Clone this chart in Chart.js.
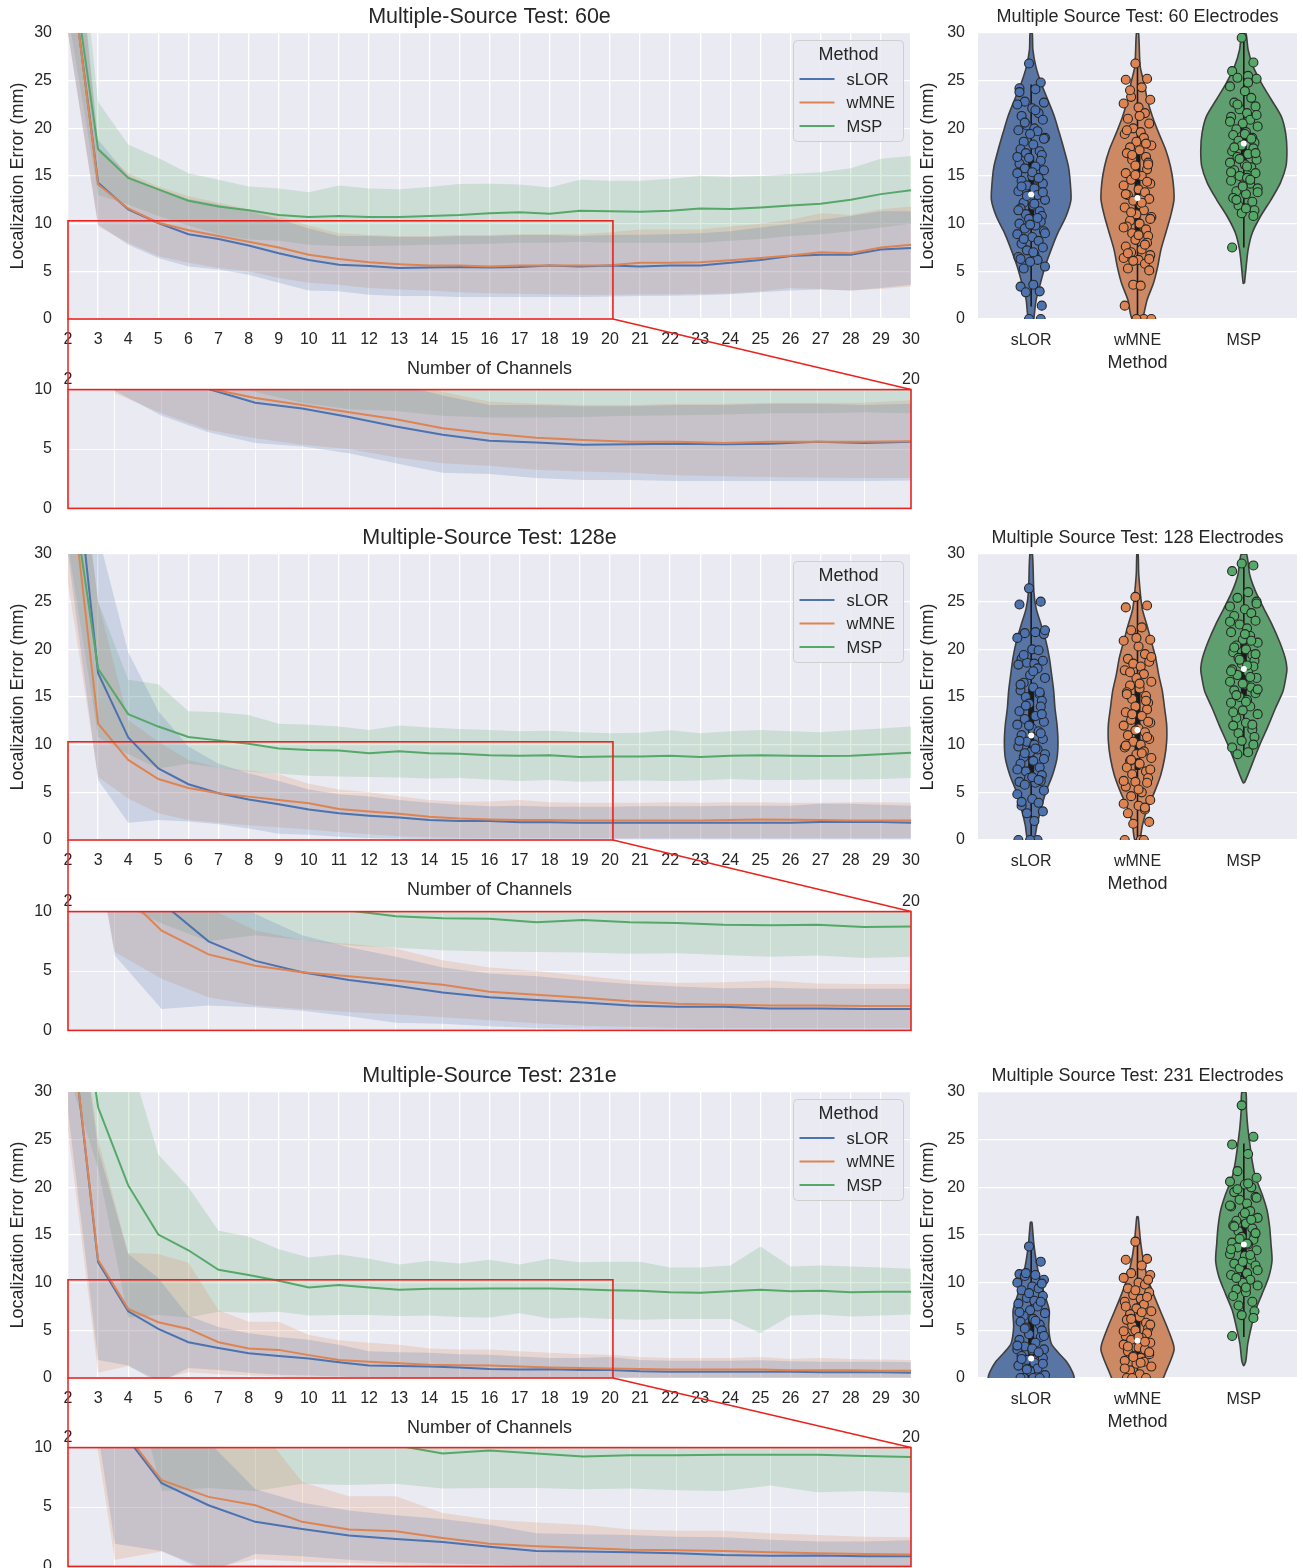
<!DOCTYPE html>
<html>
<head>
<meta charset="utf-8">
<script src="https://cdn.jsdelivr.net/npm/chart.js@4.4.1/dist/chart.umd.min.js"></script>
<style>
body{margin:0;background:#fff}
#page{position:relative;width:1303px;height:1568px;overflow:hidden;background:#fff}
</style>
</head>
<body>
<div id="page"></div>
<script>
// channels on the x axis of the line plots
const CHANNELS = [2,3,4,5,6,7,8,9,10,11,12,13,14,15,16,17,18,19,20,21,22,23,24,25,26,27,28,29,30];
const METHODS = ['sLOR','wMNE','MSP'];

// ---- 60 electrodes: mean, lower band, upper band ----
const S60_MEAN = [39,14.3,11.5,10.05,8.9,8.4,7.7,6.9,6.2,5.7,5.55,5.35,5.4,5.45,5.4,5.45,5.6,5.5,5.6,5.5,5.6,5.6,5.9,6.2,6.6,6.75,6.75,7.3,7.45];
const S60_LO   = [30,9.9,7.8,6.4,5.5,5.2,4.65,3.8,3.0,2.9,2.55,2.4,2.4,2.3,2.3,2.3,2.3,2.3,2.35,2.4,2.45,2.5,2.6,2.8,3.0,3.1,3.0,3.25,3.6];
const S60_HI   = [50,18.8,15.0,13.5,12.6,12.0,11.3,10.5,9.5,8.7,8.7,8.6,8.6,8.7,8.7,8.8,8.8,8.7,8.8,8.85,8.9,9.0,9.2,9.6,10.0,10.4,10.8,11.3,11.3];
const W60_MEAN = [39,14.1,11.6,10.1,9.3,8.7,8.1,7.5,6.75,6.3,5.95,5.75,5.6,5.6,5.5,5.6,5.6,5.6,5.65,5.9,5.9,5.95,6.15,6.4,6.65,7.0,6.9,7.5,7.8];
const W60_LO   = [30,9.7,8.0,6.6,5.9,5.35,5.0,4.3,3.8,3.6,3.25,3.1,3.0,2.8,2.7,2.65,2.6,2.55,2.55,2.6,2.6,2.65,2.7,2.9,3.25,3.15,3.0,3.15,3.4];
const W60_HI   = [50,18.0,15.3,13.9,12.9,12.2,11.5,10.8,9.8,9.0,8.8,8.7,8.7,8.8,8.8,8.9,8.9,8.9,9.1,9.4,9.4,9.4,9.7,10.0,10.4,11.1,10.9,11.5,11.8];
const M60_MEAN = [40,17.8,14.8,13.6,12.4,11.8,11.4,10.9,10.7,10.8,10.7,10.7,10.8,10.9,11.1,11.2,11.05,11.35,11.3,11.25,11.35,11.6,11.55,11.7,11.9,12.1,12.5,13.1,13.5];
const M60_LO   = [32,13.0,12.0,10.8,9.8,8.9,8.35,8.2,7.8,7.65,7.65,7.7,7.8,7.85,7.9,8.0,8.0,8.1,8.0,8.0,8.0,8.0,8.2,8.4,8.7,8.9,9.2,9.6,10.0];
const M60_HI   = [52,22.8,18.3,16.9,15.3,14.6,13.9,13.7,13.3,14.0,13.7,13.6,13.85,14.15,14.2,14.1,13.8,14.6,14.5,14.5,14.7,15.0,14.9,15.0,15.2,15.4,15.8,16.8,17.1];

// ---- 128 electrodes ----
const S128_MEAN = [47,17.5,10.75,7.5,5.85,4.9,4.25,3.75,3.2,2.8,2.55,2.35,2.1,2.0,2.0,1.85,1.85,1.8,1.8,1.8,1.8,1.8,1.82,1.82,1.82,1.9,1.9,1.9,1.8];
const S128_LO   = [30,6.3,1.8,2.1,1.95,1.65,1.2,0.65,0.55,0.35,0.2,0.15,0.1,0.1,0.05,0.05,0.05,0.05,0.05,0.05,0.05,0.05,0.05,0.05,0.05,0.05,0.05,0.05,0.05];
const S128_HI   = [50,32,19.7,13.5,9.8,8.0,7.0,6.2,5.3,4.8,4.55,4.2,3.9,3.7,3.55,3.6,3.5,3.5,3.5,3.55,3.55,3.55,3.6,3.6,3.6,3.8,3.8,3.7,3.6];
const W128_MEAN = [40,12.2,8.4,6.4,5.45,4.9,4.55,4.2,3.85,3.25,3.0,2.75,2.45,2.25,2.15,2.1,2.1,2.05,2.05,2.05,2.05,2.05,2.1,2.15,2.12,2.1,2.05,2.05,2.05];
const W128_LO   = [27,6.6,4.35,2.8,2.1,1.8,1.55,1.35,1.1,0.85,0.6,0.4,0.3,0.2,0.2,0.2,0.2,0.2,0.2,0.2,0.2,0.2,0.2,0.2,0.2,0.2,0.2,0.2,0.2];
const W128_HI   = [50,25,12.6,10.3,8.4,7.6,7.3,6.9,5.9,5.3,5.0,4.6,4.2,4.0,4.05,4.2,3.95,3.9,3.9,3.9,3.95,3.9,3.95,3.95,3.9,3.9,3.95,3.95,3.9];
const M128_MEAN = [39.5,17.95,13.2,11.9,10.8,10.45,10.1,9.6,9.45,9.4,9.1,9.3,9.1,9.05,8.9,8.85,8.9,8.7,8.75,8.75,8.85,8.7,8.85,8.9,8.85,8.8,8.85,9.0,9.15];
const M128_LO   = [31,10.8,9.0,7.5,8.0,7.6,7.15,6.95,6.75,6.65,6.6,6.55,6.45,6.5,6.35,6.2,6.3,6.1,6.2,6.25,6.2,6.25,6.4,6.3,6.3,6.35,6.35,6.4,6.5];
const M128_HI   = [50,25,16.8,16.35,13.5,13.4,13.1,12.2,12.1,11.9,11.55,12.0,11.8,11.65,11.55,11.4,11.45,11.3,11.2,11.25,11.5,11.2,11.4,11.55,11.4,11.3,11.5,11.7,11.9];

// ---- 231 electrodes ----
const S231_MEAN = [40,12.15,7.0,5.15,3.75,3.15,2.6,2.3,2.05,1.65,1.3,1.25,1.2,1.1,0.95,0.9,0.92,0.85,0.85,0.7,0.65,0.65,0.65,0.65,0.65,0.6,0.6,0.6,0.55];
const S231_LO   = [28,1.9,1.3,-0.5,1.05,0.85,0.55,0.35,0.25,0.15,0.05,0,0,0,0,0,0,0,0,0,0,0,0,0,0,0,0,0,0];
const S231_HI   = [48,24,13.0,10.5,6.5,5.35,4.7,4.3,4.0,3.5,2.8,2.7,2.65,2.5,2.45,2.25,2.1,2.1,2.2,1.9,1.8,1.8,1.8,1.85,1.75,1.7,1.7,1.7,1.65];
const W231_MEAN = [40,12.4,7.25,5.85,5.15,3.75,3.1,2.95,2.4,1.9,1.7,1.55,1.4,1.35,1.3,1.2,1.1,1.05,1.0,0.95,0.9,0.9,0.9,0.9,0.8,0.8,0.8,0.75,0.75];
const W231_LO   = [26,0.55,1.25,-0.2,0.6,0.4,0.3,0.15,0,0,0,0,0,0,0,0,0,0,0,0,0,0,0,0,0,0,0,0,0];
const W231_HI   = [48,25,13.1,13.0,12.1,7.1,5.9,5.9,4.5,3.95,3.7,3.5,3.1,3.0,3.0,2.8,2.65,2.5,2.45,2.2,2.1,2.1,2.1,2.2,2.0,2.1,2.0,1.95,1.9];
const M231_MEAN = [50,28.4,20.2,15.05,13.4,11.35,10.8,10.2,9.5,9.75,9.5,9.25,9.35,9.35,9.4,9.4,9.4,9.3,9.2,9.15,9.0,8.95,9.1,9.25,9.1,9.15,9.0,9.05,9.05];
const M231_LO   = [32,22,6.35,6.6,6.35,6.95,6.85,6.95,6.55,6.6,6.6,6.5,6.55,6.4,6.35,6.8,6.25,6.35,6.2,6.1,6.2,6.2,6.2,4.7,6.55,6.65,6.45,6.55,6.65];
const M231_HI   = [60,40,34,23.45,20.0,15.45,14.85,13.5,12.65,12.95,12.5,11.9,12.3,12.0,12.4,11.9,12.5,12.15,12.2,12.2,11.6,11.6,11.8,13.8,11.7,11.8,11.7,11.6,11.45];

// ---- violin outlines: y levels and half widths (category units) ----
const V60_SLOR_Y = [30,28.25,26.5,24.75,23,21.25,19.5,17.75,16,14.25,12.5,10.75,9,7.25,5.5,3.75,2,0];
const V60_SLOR_W = [0.01,0.016,0.044,0.093,0.156,0.218,0.265,0.31,0.35,0.368,0.374,0.327,0.25,0.187,0.131,0.087,0.047,0.025];
const V60_WMNE_Y = [30,26.5,24.75,23,21.25,19.5,17.75,16,14.25,12.5,10.75,9,7.25,5.5,3.75,2,0];
const V60_WMNE_W = [0.01,0.025,0.062,0.093,0.14,0.2,0.265,0.31,0.336,0.343,0.31,0.265,0.22,0.19,0.15,0.09,0.05];
const V60_MSP_Y  = [30,28.25,26.5,24.75,23,21.25,19.5,17.75,16,14.25,12.5,10.75,9,7.25,5.5,3.75];
const V60_MSP_W  = [0.019,0.04,0.087,0.165,0.259,0.352,0.393,0.405,0.396,0.343,0.255,0.156,0.078,0.04,0.022,0.006];

const V128_SLOR_Y = [30,26.1,24.3,22.6,20.8,19.1,17.3,15.6,13.8,12.1,10.3,8.6,6.8,5.1,3.3,1.6,0];
const V128_SLOR_W = [0.012,0.025,0.047,0.093,0.14,0.171,0.193,0.212,0.224,0.243,0.252,0.243,0.2,0.14,0.093,0.056,0.031];
const V128_WMNE_Y = [30,27.8,24.3,22.6,20.8,19.1,17.3,15.6,13.8,12.1,10.3,8.6,6.8,5.1,3.3,1.6,0];
const V128_WMNE_W = [0.006,0.012,0.044,0.087,0.131,0.171,0.2,0.234,0.255,0.274,0.274,0.255,0.218,0.162,0.093,0.047,0.025];
const V128_MSP_Y  = [30,27.8,26.1,24.3,22.6,20.8,19.1,18.0,17.3,15.6,13.8,12.1,10.3,8.6,6.8,6.0];
const V128_MSP_W  = [0.025,0.056,0.109,0.187,0.265,0.336,0.389,0.405,0.399,0.368,0.296,0.234,0.162,0.1,0.037,0.006];

const V231_SLOR_Y = [16.35,15.8,14.1,12.3,10.6,8.8,7.1,5.3,3.6,2.6,1.75,0.6,0,-1];
const V231_SLOR_W = [0.006,0.012,0.025,0.047,0.078,0.125,0.17,0.165,0.19,0.26,0.33,0.39,0.405,0.41];
const V231_WMNE_Y = [16.9,15.8,14.1,12.3,10.6,8.8,7.1,5.3,3.6,2.9,1.8,0.6,0,-1];
const V231_WMNE_W = [0.006,0.016,0.031,0.056,0.093,0.15,0.212,0.28,0.336,0.343,0.31,0.265,0.243,0.2];
const V231_MSP_Y  = [30,28.1,26.3,24.6,22.8,21.1,19.3,17.6,15.8,14.1,12.3,10.6,8.8,7.1,5.3,3.6,1.8,1.3];
const V231_MSP_W  = [0.019,0.025,0.037,0.056,0.078,0.109,0.171,0.218,0.243,0.255,0.265,0.234,0.171,0.109,0.069,0.037,0.019,0.003];

// inner box: [whisker low, q1, median, q3, whisker high]
const B60_SLOR = [1.3,9.4,13.05,17.05,24.6];
const B60_WMNE = [0,8.85,12.7,17.6,27.0];
const B60_MSP  = [7.5,15.8,18.4,20.3,29.5];
const B128_SLOR = [0,6.1,10.95,15.9,26.4];
const B128_WMNE = [0,7.35,11.55,16.1,25.6];
const B128_MSP  = [8.9,14.9,17.95,20.8,29.0];
const B231_SLOR = [0,0,2.05,6.3,13.8];
const B231_WMNE = [0,1.4,3.9,6.4,14.8];
const B231_MSP  = [4.3,10.6,14.0,16.5,24.6];

// strip points
const P60_SLOR = [26.8,24.8,24.2,24.1,22.8,22.7,22.5,22.1,21.6,21.3,20.9,20.3,20.0,19.8,19.7,19.4,19.0,18.6,18.3,17.8,17.6,17.4,17.2,16.9,16.6,16.3,16.0,15.8,15.6,15.3,15.0,14.7,14.5,14.2,14.0,13.7,13.4,13.0,12.7,12.5,12.2,11.9,11.6,11.3,11.0,10.8,10.5,10.2,10.0,9.8,9.5,9.2,8.9,8.6,8.2,7.9,7.5,7.2,6.8,6.5,6.2,6.0,5.5,5.3,3.6,3.4,2.9,2.8,1.4,0,0,
  23.8,21.9,20.6,18.9,17.0,15.4,14.8,13.9,13.3,12.9,12.1,11.4,10.6,9.9,9.0,8.4,7.0,6.3];
const P60_WMNE = [26.8,25.2,25.1,24.3,23.3,23.0,22.6,22.2,21.6,21.0,20.5,20.0,19.6,19.4,19.0,18.6,18.2,18.0,17.7,17.4,17.0,16.7,16.4,16.1,15.7,15.3,15.0,14.6,14.2,14.0,13.6,13.3,13.0,12.6,12.4,12.0,11.7,11.4,11.0,10.7,10.3,10.0,9.7,9.4,9.0,8.7,8.3,8.0,7.6,7.3,7.0,6.7,6.4,6.2,5.8,5.3,5.1,3.6,3.5,1.4,0,0,0,
  24.0,21.3,19.8,18.4,17.2,16.2,15.1,14.4,13.1,12.2,11.2,10.5,9.6,8.8,7.8,6.9,6.3,6.1];
const P60_MSP  = [29.5,26.9,26.0,25.5,25.3,25.2,24.4,23.9,23.2,22.7,22.3,22.0,21.6,21.2,20.9,20.5,20.2,19.9,19.6,19.3,19.0,18.7,18.5,18.2,17.9,17.6,17.3,17.0,16.7,16.4,16.2,15.9,15.6,15.3,15.0,14.8,14.5,14.2,14.0,13.7,13.4,13.1,12.7,12.3,11.9,11.4,11.1,10.8,7.5,
  24.8,22.5,21.4,20.7,19.4,18.9,18.0,17.4,16.8,16.0,15.4,14.6,13.9,13.3,12.5,11.6];
const P128_SLOR = [26.4,25.0,24.7,21.8,21.7,21.6,21.2,20.0,19.9,19.0,18.8,18.6,18.5,18.4,18.0,17.3,17.0,16.5,16.0,15.7,15.3,15.0,14.6,14.3,14.0,13.5,13.0,12.7,12.4,12.1,11.7,11.4,11.0,10.6,10.3,10.0,9.8,9.5,9.2,9.0,8.7,8.3,8.0,7.6,7.2,6.8,6.5,6.2,6.1,6.0,5.8,5.2,4.8,4.3,3.9,3.6,3.0,2.8,2.0,0,0,0,
  22.0,19.4,17.7,16.3,15.5,14.1,13.2,12.0,11.2,10.4,9.6,9.1,8.5,7.4,6.6,6.3,4.0];
const P128_WMNE = [25.5,24.6,24.4,22.3,22.0,21.0,20.9,20.3,19.5,19.0,18.7,18.5,18.2,17.8,17.4,17.0,16.6,16.2,15.9,15.5,15.1,14.8,14.4,14.0,13.7,13.4,13.0,12.6,12.3,12.0,11.7,11.3,11.0,10.6,10.3,10.0,9.7,9.3,9.0,8.6,8.3,8.0,7.6,7.2,6.9,6.5,6.1,6.0,5.6,5.0,4.6,4.2,3.8,3.6,3.2,2.8,1.9,1.7,0,0,0,
  21.2,19.2,17.6,16.4,15.3,14.6,13.2,12.4,11.5,10.8,9.9,9.1,8.4,7.4,6.2,5.3,3.4];
const P128_MSP  = [29.0,28.8,28.2,26.0,25.4,25.0,24.5,24.2,23.8,23.5,23.0,22.6,22.2,21.8,21.4,21.0,20.7,20.4,20.0,19.7,19.4,19.1,18.8,18.5,18.2,17.9,17.6,17.3,17.0,16.6,16.3,16.0,15.7,15.4,15.0,14.7,14.4,14.0,13.6,13.2,12.8,12.3,12.0,11.6,11.2,10.8,10.4,10.0,9.7,9.2,9.0,
  24.8,22.9,21.6,20.9,20.2,19.5,18.9,18.3,17.7,17.1,16.4,15.8,15.2,14.5,13.4,12.1];
const P231_SLOR = [13.8,12.2,10.9,10.8,10.7,10.3,10.0,9.6,9.4,9.2,8.6,8.4,8.1,7.8,7.5,7.1,6.8,6.5,6.2,5.9,5.6,5.3,5.0,4.6,4.3,4.0,3.7,3.3,3.0,3.0,2.9,2.6,2.3,2.1,1.9,1.6,1.3,1.0,0.7,0.3,0,0,0,0,
  11.0,9.9,8.9,8.0,6.9,6.0,5.2,4.4,3.4,3.1,2.7,2.0,1.5,0.9];
const P231_WMNE = [14.3,12.5,12.4,11.8,11.0,10.8,10.5,10.0,9.8,9.4,9.0,8.7,8.3,8.0,7.7,7.3,7.0,6.7,6.4,6.1,5.8,5.5,5.2,5.0,4.7,4.4,4.2,4.0,3.7,3.5,3.2,3.0,2.8,2.5,2.3,2.1,1.8,1.7,1.5,1.2,0.8,0.4,0,0,0,
  10.3,9.2,8.5,7.5,6.9,6.2,5.6,4.9,4.3,3.8,3.3,2.7,2.2,1.6,1.0];
const P231_MSP  = [28.6,25.3,24.5,23.5,21.7,21.0,20.6,20.3,20.0,19.5,19.0,18.7,18.3,18.0,17.5,17.0,16.8,16.5,16.2,16.0,15.7,15.4,15.0,14.8,14.5,14.2,14.0,13.7,13.4,13.0,12.8,12.4,12.0,11.8,11.5,11.0,10.8,10.3,10.0,9.7,9.3,9.0,8.6,8.0,7.6,7.0,6.6,6.3,4.4,
  20.4,19.8,18.9,18.1,17.3,16.6,15.9,15.2,14.6,14.1,13.5,12.9,12.2,11.3,10.5,9.5];

// styling
const FONT = '"Liberation Sans", Arial, sans-serif';
const INK = '#262626';
const COLORS = ['#4C72B0','#DD8452','#55A868'];
const BANDS = ['rgba(76,114,176,0.2)','rgba(221,132,82,0.2)','rgba(85,168,104,0.2)'];
const VIOLIN_FILL = ['#5875A4','#CC8963','#5F9E6E'];
const RED = '#e8231f';
const JIT = [-0.02,0.09,-0.11,0.04,-0.06,0.12,-0.13,0.01,0.07,-0.09,0.11,-0.04,0.03,-0.12,0.06,-0.01,0.13,-0.07,0.02,-0.1,0.08,-0.05,0.1];
const ZOOM_X = [2, 20.1], ZOOM_Y = [0, 10.3];

Chart.defaults.font.family = FONT;
Chart.defaults.color = INK;

const page = document.getElementById('page');
function makeCanvas(left, top, w, h) {
  const c = document.createElement('canvas');
  c.width = w; c.height = h;
  c.style.cssText = 'position:absolute;left:' + left + 'px;top:' + top + 'px';
  page.appendChild(c);
  return c;
}

const panelBg = {
  id: 'panelBg',
  beforeDraw(c) {
    const a = c.chartArea, x = c.ctx;
    x.save(); x.fillStyle = '#EAEAF2'; x.fillRect(a.left, a.top, a.width, a.height); x.restore();
  }
};
const panelTitle = {
  id: 'panelTitle',
  afterDraw(c, args, o) {
    if (!o.text) return;
    const a = c.chartArea, x = c.ctx;
    x.save();
    x.font = o.size + 'px ' + FONT; x.fillStyle = INK;
    x.textAlign = 'center'; x.textBaseline = 'middle';
    x.fillText(o.text, (a.left + a.right) / 2, a.top - 16);
    x.restore();
  }
};
const methodLegend = {
  id: 'methodLegend',
  afterDraw(c, args, o) {
    if (!o.show) return;
    const a = c.chartArea, x = c.ctx;
    const w = 110, h = 101, left = a.right - 7.5 - w, top = a.top + 7.5;
    x.save();
    x.beginPath(); x.roundRect(left, top, w, h, 4);
    x.fillStyle = 'rgba(234,234,242,0.85)'; x.fill();
    x.strokeStyle = '#cfcfcf'; x.lineWidth = 1; x.stroke();
    x.fillStyle = INK; x.textBaseline = 'middle';
    x.font = '18px ' + FONT; x.textAlign = 'center';
    x.fillText('Method', left + w / 2, top + 14.5);
    x.font = '16.5px ' + FONT; x.textAlign = 'left';
    for (let i = 0; i < 3; i++) {
      const ds = c.data.datasets[i], y = top + 38.5 + i * 23.5;
      x.strokeStyle = ds.borderColor; x.lineWidth = 2;
      x.beginPath(); x.moveTo(left + 6, y); x.lineTo(left + 41, y); x.stroke();
      x.fillText(ds.label, left + 53, y + 1);
    }
    x.restore();
  }
};
const zoomBox = {
  id: 'zoomBox',
  afterDatasetsDraw(c, args, o) {
    if (!o.show) return;
    const sx = c.scales.x, sy = c.scales.y, x = c.ctx;
    const l = sx.getPixelForValue(ZOOM_X[0]), r = sx.getPixelForValue(ZOOM_X[1]);
    const t = sy.getPixelForValue(ZOOM_Y[1]), b = sy.getPixelForValue(ZOOM_Y[0]);
    x.save(); x.strokeStyle = RED; x.lineWidth = 1.6; x.strokeRect(l, t, r - l, b - t); x.restore();
  }
};
const insetFrame = {
  id: 'insetFrame',
  afterDatasetsDraw(c) {
    const a = c.chartArea, x = c.ctx;
    x.save(); x.strokeStyle = RED; x.lineWidth = 1.6; x.strokeRect(a.left, a.top, a.width, a.height); x.restore();
  }
};

function series(arr) { return arr.map((v, i) => ({x: CHANNELS[i], y: v})); }

function lineSets(rows) {
  const ds = [];
  rows.forEach((r, m) => ds.push({
    label: METHODS[m], data: series(r[0]), borderColor: COLORS[m], borderWidth: 2,
    pointRadius: 0, fill: false, order: 2 - m
  }));
  rows.forEach((r, m) => {
    const lo = ds.length;
    ds.push({data: series(r[1]), borderColor: 'rgba(0,0,0,0)', borderWidth: 0, pointRadius: 0, fill: false, order: 10});
    ds.push({data: series(r[2]), borderColor: 'rgba(0,0,0,0)', borderWidth: 0, pointRadius: 0,
             fill: lo, backgroundColor: BANDS[m], order: 10});
  });
  return ds;
}

function tickFont(size) { return {family: FONT, size: size}; }

function mainChart(canvas, title, rows) {
  return new Chart(canvas, {
    type: 'line',
    data: {datasets: lineSets(rows)},
    options: {
      responsive: false, animation: false, events: [],
      layout: {padding: {top: 32, right: 20, bottom: 0, left: 0}},
      plugins: {
        legend: {display: false}, tooltip: {enabled: false},
        filler: {drawTime: 'beforeDatasetsDraw'},
        panelTitle: {text: title, size: 21.5},
        methodLegend: {show: true},
        zoomBox: {show: true}
      },
      scales: {
        x: {
          type: 'linear', min: 2, max: 30,
          border: {display: false},
          grid: {color: '#ffffff', lineWidth: 1.3, drawTicks: false},
          ticks: {stepSize: 1, autoSkip: false, maxRotation: 0, padding: 11, color: INK, font: tickFont(16)},
          title: {display: true, text: 'Number of Channels', color: INK, font: tickFont(18), padding: {top: 0, bottom: 1}},
          afterFit: s => { s.height = 62; }
        },
        y: {
          min: 0, max: 30,
          border: {display: false},
          grid: {color: '#ffffff', lineWidth: 1.3, drawTicks: false},
          ticks: {stepSize: 5, padding: 16, color: INK, font: tickFont(16)},
          title: {display: true, text: 'Localization Error (mm)', color: INK, font: tickFont(18), padding: {top: 7, bottom: 0}},
          afterFit: s => { s.width = 68; }
        }
      }
    },
    plugins: [panelBg, panelTitle, methodLegend, zoomBox]
  });
}

function insetChart(canvas, rows) {
  return new Chart(canvas, {
    type: 'line',
    data: {datasets: lineSets(rows)},
    options: {
      responsive: false, animation: false, events: [],
      layout: {padding: {top: 0, right: 14, bottom: 10, left: 0}},
      plugins: {legend: {display: false}, tooltip: {enabled: false}, filler: {drawTime: 'beforeDatasetsDraw'}},
      scales: {
        x: {
          type: 'linear', position: 'top', min: 2, max: 20,
          border: {display: false},
          grid: {color: 'rgba(255,255,255,0.9)', lineWidth: 1, drawTicks: false},
          ticks: {stepSize: 1, autoSkip: false, maxRotation: 0, padding: 0, color: INK, font: tickFont(16),
                  callback: v => (v === 2 || v === 20) ? String(v) : ''},
          afterFit: s => { s.height = 22; }
        },
        y: {
          min: 0, max: 10,
          border: {display: false},
          grid: {color: 'rgba(255,255,255,0.9)', lineWidth: 1, drawTicks: false},
          ticks: {stepSize: 5, padding: 16, color: INK, font: tickFont(16)},
          afterFit: s => { s.width = 68; }
        }
      }
    },
    plugins: [panelBg, insetFrame]
  });
}

function violinChart(canvas, title, profiles, boxes, points) {
  const ds = [];
  profiles.forEach((p, m) => {
    const Y = p[0], W = p[1];
    const right = Y.map((y, i) => ({x: m + W[i], y: y})).reverse();
    const left = Y.map((y, i) => ({x: m - W[i], y: y}));
    const poly = right.concat(left);
    poly.push(poly[0]);
    ds.push({data: poly, fill: 'shape', backgroundColor: VIOLIN_FILL[m], borderColor: '#3f3f3f',
             borderWidth: 1.6, pointRadius: 0, tension: 0.25, order: 40, clip: 0});
    const b = boxes[m];
    ds.push({data: [{x: m, y: b[0]}, {x: m, y: b[4]}], borderColor: '#1a1a1a', borderWidth: 1.6,
             pointRadius: 0, fill: false, order: 30, clip: 0});
    ds.push({data: [{x: m, y: b[1]}, {x: m, y: b[3]}], borderColor: '#1a1a1a', borderWidth: 6,
             borderCapStyle: 'butt', pointRadius: 0, fill: false, order: 29, clip: 0});
    ds.push({data: points[m].map((y, i) => ({x: m + JIT[i % JIT.length], y: y})), showLine: false,
             pointRadius: 4.5, pointBackgroundColor: COLORS[m], pointBorderColor: '#262626',
             pointBorderWidth: 1.1, fill: false, order: 20, clip: 0});
    ds.push({data: [{x: m, y: b[2]}], showLine: false, pointRadius: 3, pointBackgroundColor: '#ffffff',
             pointBorderWidth: 0, fill: false, order: 10});
  });
  return new Chart(canvas, {
    type: 'line',
    data: {datasets: ds},
    options: {
      responsive: false, animation: false, events: [],
      layout: {padding: {top: 32, right: 6, bottom: 0, left: 0}},
      plugins: {
        legend: {display: false}, tooltip: {enabled: false},
        filler: {drawTime: 'beforeDatasetsDraw'},
        panelTitle: {text: title, size: 18}
      },
      scales: {
        x: {
          type: 'linear', min: -0.5, max: 2.5,
          border: {display: false},
          grid: {display: false, drawTicks: false},
          afterBuildTicks: s => { s.ticks = [0, 1, 2].map(v => ({value: v})); },
          ticks: {padding: 12, color: INK, font: tickFont(16), callback: v => METHODS[v]},
          title: {display: true, text: 'Method', color: INK, font: tickFont(18), padding: {top: 0, bottom: 1}},
          afterFit: s => { s.height = 56; }
        },
        y: {
          min: 0, max: 30,
          border: {display: false},
          grid: {color: '#ffffff', lineWidth: 1.3, drawTicks: false},
          ticks: {stepSize: 5, padding: 13, color: INK, font: tickFont(16)},
          title: {display: true, text: 'Localization Error (mm)', color: INK, font: tickFont(18), padding: {top: 2, bottom: 0}},
          afterFit: s => { s.width = 63; }
        }
      }
    },
    plugins: [panelBg, panelTitle]
  });
}

const PANELS = [
  {plotTop: 33, insetTop: 390, tag: '60e', long: '60 Electrodes',
   rows: [[S60_MEAN,S60_LO,S60_HI],[W60_MEAN,W60_LO,W60_HI],[M60_MEAN,M60_LO,M60_HI]],
   prof: [[V60_SLOR_Y,V60_SLOR_W],[V60_WMNE_Y,V60_WMNE_W],[V60_MSP_Y,V60_MSP_W]],
   box: [B60_SLOR,B60_WMNE,B60_MSP], pts: [P60_SLOR,P60_WMNE,P60_MSP]},
  {plotTop: 554, insetTop: 912, tag: '128e', long: '128 Electrodes',
   rows: [[S128_MEAN,S128_LO,S128_HI],[W128_MEAN,W128_LO,W128_HI],[M128_MEAN,M128_LO,M128_HI]],
   prof: [[V128_SLOR_Y,V128_SLOR_W],[V128_WMNE_Y,V128_WMNE_W],[V128_MSP_Y,V128_MSP_W]],
   box: [B128_SLOR,B128_WMNE,B128_MSP], pts: [P128_SLOR,P128_WMNE,P128_MSP]},
  {plotTop: 1092, insetTop: 1448, tag: '231e', long: '231 Electrodes',
   rows: [[S231_MEAN,S231_LO,S231_HI],[W231_MEAN,W231_LO,W231_HI],[M231_MEAN,M231_LO,M231_HI]],
   prof: [[V231_SLOR_Y,V231_SLOR_W],[V231_WMNE_Y,V231_WMNE_W],[V231_MSP_Y,V231_MSP_W]],
   box: [B231_SLOR,B231_WMNE,B231_MSP], pts: [P231_SLOR,P231_WMNE,P231_MSP]}
];

const pairs = [];
PANELS.forEach(p => {
  const main = mainChart(makeCanvas(0, p.plotTop - 32, 931, 380), 'Multiple-Source Test: ' + p.tag, p.rows);
  // y tick labels reserve some room above and below the inset plot area
  const inset = insetChart(makeCanvas(0, p.insetTop - 26, 925, 170), p.rows);
  inset.canvas.style.top = (p.insetTop - inset.chartArea.top) + 'px';
  violinChart(makeCanvas(915, p.plotTop - 32, 388, 374), 'Multiple Source Test: ' + p.long, p.prof, p.box, p.pts);
  pairs.push([main, inset]);
});

// connector lines between zoom rectangle and inset
const links = makeCanvas(0, 0, 1303, 1568);
links.style.pointerEvents = 'none';
const lx = links.getContext('2d');
lx.strokeStyle = RED; lx.lineWidth = 1.5;
pairs.forEach(([main, inset]) => {
  const mc = main.canvas, ic = inset.canvas, ia = inset.chartArea;
  const y0 = mc.offsetTop + main.scales.y.getPixelForValue(ZOOM_Y[0]);
  lx.beginPath();
  lx.moveTo(mc.offsetLeft + main.scales.x.getPixelForValue(ZOOM_X[0]), y0);
  lx.lineTo(ic.offsetLeft + ia.left, ic.offsetTop + ia.top);
  lx.moveTo(mc.offsetLeft + main.scales.x.getPixelForValue(ZOOM_X[1]), y0);
  lx.lineTo(ic.offsetLeft + ia.right, ic.offsetTop + ia.top);
  lx.stroke();
});
</script>
</body>
</html>
